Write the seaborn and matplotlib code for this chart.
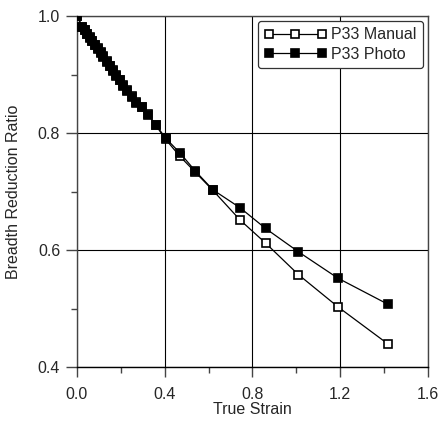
import numpy as np
import pandas as pd
import matplotlib
matplotlib.use('Agg')
import matplotlib.pyplot as plt
import seaborn as sns
from matplotlib.ticker import MultipleLocator

# Data
strain = [0.0, 0.025, 0.035, 0.045, 0.058, 0.070, 0.082, 0.095, 0.108, 0.120,
          0.135, 0.150, 0.165, 0.180, 0.195, 0.212, 0.230, 0.250, 0.270, 0.295,
          0.325, 0.360, 0.405, 0.470, 0.540, 0.620, 0.745, 0.860, 1.010, 1.190, 1.420]
manual = [1.000, 0.982, 0.976, 0.970, 0.964, 0.958, 0.951, 0.945, 0.938, 0.931,
          0.923, 0.915, 0.907, 0.899, 0.891, 0.882, 0.873, 0.863, 0.853, 0.845,
          0.832, 0.813, 0.789, 0.760, 0.733, 0.702, 0.651, 0.612, 0.558, 0.503, 0.439]
photo = [1.000, 0.982, 0.976, 0.970, 0.963, 0.957, 0.951, 0.944, 0.937, 0.930,
         0.922, 0.914, 0.906, 0.898, 0.890, 0.881, 0.872, 0.862, 0.852, 0.844,
         0.831, 0.814, 0.791, 0.766, 0.735, 0.703, 0.672, 0.637, 0.597, 0.552, 0.507]

df = pd.DataFrame({'strain': strain, 'P33 Manual': manual, 'P33 Photo': photo})

sns.set_style('white')
plt.rcParams['font.family'] = ['Liberation Sans', 'DejaVu Sans']
fs = 11.5

fig = plt.figure(figsize=(4.42, 4.21), dpi=100)
ax = fig.add_axes([0.174, 0.128, 0.794, 0.834])

sns.lineplot(data=df, x='strain', y='P33 Manual', ax=ax, color='black', lw=0.9,
             marker='s', markersize=5.2, markerfacecolor='white',
             markeredgecolor='black', markeredgewidth=1.2, label='P33 Manual', zorder=3)
sns.lineplot(data=df, x='strain', y='P33 Photo', ax=ax, color='black', lw=0.9,
             marker='s', markersize=5.2, markerfacecolor='black',
             markeredgecolor='black', markeredgewidth=1.2, label='P33 Photo', zorder=4)

ax.set_xlim(0, 1.6)
ax.set_ylim(0.4, 1.0)
ax.xaxis.set_major_locator(MultipleLocator(0.4))
ax.xaxis.set_minor_locator(MultipleLocator(0.2))
ax.yaxis.set_major_locator(MultipleLocator(0.2))
ax.yaxis.set_minor_locator(MultipleLocator(0.1))
ax.set_xticks(ax.get_xticks())
ax.set_yticks(ax.get_yticks())
ax.set_xticklabels([f'{v:.1f}' for v in ax.get_xticks()], fontsize=fs)
ax.set_yticklabels([f'{v:.1f}' for v in ax.get_yticks()], fontsize=fs)
ax.set_xlim(0, 1.6)
ax.set_ylim(0.4, 1.0)
ax.tick_params(axis='x', which='major', direction='out', length=7, width=1,
               color='#444444', bottom=True, pad=7)
ax.tick_params(axis='y', which='major', direction='out', length=8, width=1,
               color='#444444', left=True, pad=4)
ax.tick_params(axis='both', which='minor', direction='out', length=4.5, width=1,
               color='#444444', bottom=True, left=True)
ax.grid(True, which='major', color='black', lw=0.8)
for side in ['left', 'bottom', 'right', 'top']:
    ax.spines[side].set_color('#444444')
    ax.spines[side].set_linewidth(1.0)
ax.spines['bottom'].set_color('black')

ax.set_xlabel('True Strain', fontsize=fs, labelpad=0)
ax.set_ylabel('Breadth Reduction Ratio', fontsize=fs, labelpad=12)

leg = ax.legend(loc='upper right', numpoints=3, fontsize=fs, frameon=True,
                fancybox=True, framealpha=1, edgecolor='#333333',
                handlelength=3.9, handletextpad=0.3, borderpad=0.4,
                labelspacing=0.3, borderaxespad=0.3)
leg.get_frame().set_linewidth(0.9)

fig.savefig('out.png', dpi=100)
